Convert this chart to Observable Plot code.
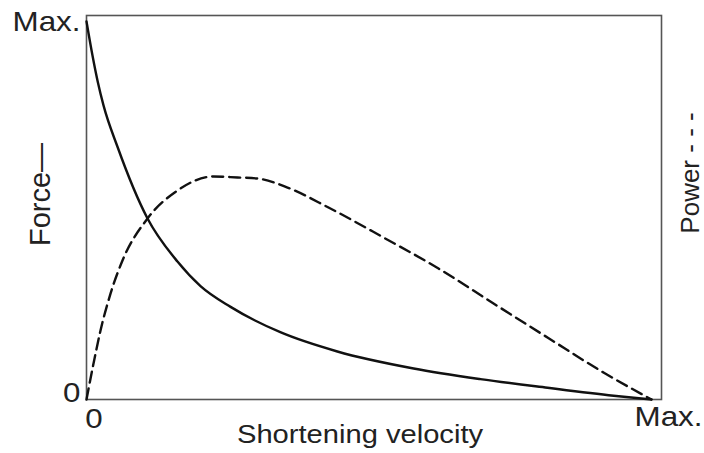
<!DOCTYPE html>
<html><head><meta charset="utf-8">
<script src="https://cdn.jsdelivr.net/npm/d3@7"></script>
<script src="https://cdn.jsdelivr.net/npm/@observablehq/plot@0.6"></script>
<style>body{margin:0;background:#fff;} svg{display:block;}</style>
</head><body><div id="chart"></div>
<script>
// Force–velocity curve (normalised: 0 … Max.)
const forceV = [0, 0.0106, 0.02, 0.0301, 0.055, 0.108, 0.161, 0.2018, 0.255, 0.343, 0.444, 0.579, 0.697, 0.816, 0.933, 1];
const forceF = [1, 0.91, 0.84, 0.778, 0.668, 0.479, 0.365, 0.30, 0.245, 0.178, 0.127, 0.082, 0.054, 0.031, 0.01, 0];
// Power–velocity curve
const powerV = [0, 0.0124, 0.0248, 0.0425, 0.0637, 0.108, 0.161, 0.2248, 0.2673, 0.3027, 0.3558, 0.4283, 0.5257, 0.623, 0.7204, 0.8159, 0.915, 1];
const powerP = [0, 0.095, 0.1825, 0.28, 0.3677, 0.4788, 0.5529, 0.59, 0.5873, 0.5847, 0.5608, 0.5079, 0.4286, 0.3466, 0.254, 0.164, 0.0714, 0];

const xTickValues = [0, 1];
const xTickLabels = ["0", "Max."];
const yTickValues = [0, 1];
const yTickLabels = ["0", "Max."];
const xLabel = "Shortening velocity";
const forceLabel = "Force\u2014";
const powerLabel = "Power - - -";

const force = forceV.map((v, i) => ({v, f: forceF[i]}));
const power = powerV.map((v, i) => ({v, p: powerP[i]}));

const ink = "#111";
const txt = "#222";

const chart = Plot.plot({
  width: 704, height: 453,
  marginLeft: 86, marginRight: 43, marginTop: 15, marginBottom: 54,
  style: {fontFamily: "'Liberation Sans', Arial, sans-serif", background: "#fff", color: txt},
  x: {domain: [0, 1.0177], axis: null},
  y: {domain: [0, 1.0159], axis: null},
  marks: [
    Plot.frame({stroke: "#555", strokeWidth: 1.6}),
    Plot.line(power, {x: "v", y: "p", curve: "monotone-x", stroke: ink, strokeWidth: 2.4, strokeDasharray: "11,6"}),
    Plot.line(force, {x: "v", y: "f", curve: "monotone-x", stroke: ink, strokeWidth: 2.4}),
    // y tick labels
    Plot.text(yTickValues, {filter: (d, i) => i === 0, x: 0, y: d => d, text: (d, i) => yTickLabels[i],
      textAnchor: "end", dx: -6, dy: -6, fontSize: 28, fill: txt, className: "stretch"}),
    Plot.text(yTickValues, {filter: (d, i) => i === 1, x: 0, y: d => d, text: (d, i) => yTickLabels[i],
      textAnchor: "end", dx: -6, dy: 1, fontSize: 28, fill: txt, className: "stretch"}),
    // x tick labels
    Plot.text(xTickValues, {filter: (d, i) => i === 0, x: d => d, y: 0, text: (d, i) => xTickLabels[i],
      dx: 7.5, dy: 20, fontSize: 28, fill: txt, className: "stretch"}),
    Plot.text(xTickValues, {filter: (d, i) => i === 1, x: d => d, y: 0, text: (d, i) => xTickLabels[i],
      dx: 17, dy: 18, fontSize: 28, fill: txt, className: "stretch"}),
    // axis titles
    Plot.text([xLabel], {frameAnchor: "bottom", text: d => d, textAnchor: "middle", lineAnchor: "middle",
      dx: -14, dy: 35, fontSize: 26, fill: txt, className: "stretch"}),
    Plot.text([forceLabel], {frameAnchor: "left", text: d => d, rotate: -90, textAnchor: "middle", lineAnchor: "middle",
      dx: -45.5, dy: -13, fontSize: 29, fill: txt}),
    Plot.text([powerLabel], {frameAnchor: "right", text: d => d, rotate: -90, textAnchor: "middle", lineAnchor: "middle",
      dx: 29, dy: -34.5, fontSize: 26, fill: txt})
  ]
});
document.getElementById("chart").appendChild(chart);
// widen horizontal labels to match the reference's wide lettering
chart.querySelectorAll(".stretch text").forEach(t => {
  const w = t.getComputedTextLength();
  t.setAttribute("textLength", (w * 1.12).toFixed(1));
  t.setAttribute("lengthAdjust", "spacingAndGlyphs");
});
</script>
</body></html>
